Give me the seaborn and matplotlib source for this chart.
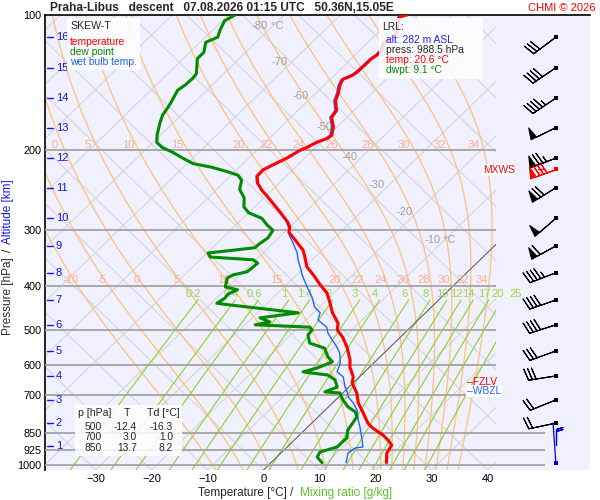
import numpy as np
import pandas as pd
import matplotlib
matplotlib.use("Agg")
import matplotlib.pyplot as plt
from matplotlib.patches import Rectangle
from matplotlib.ticker import NullLocator
import seaborn as sns

# sounding: pressure [hPa] and temperature [C]
temp_p = [100, 101, 105, 110, 112, 115, 120, 123, 125, 129, 134, 136, 139, 143, 149, 155,
          163, 169, 177, 185, 188, 192, 197, 200, 208, 215, 221, 228, 236, 245, 252, 262,
          275, 288, 296, 304, 316, 333, 345, 363, 378, 398, 415, 437, 459, 484, 501, 520,
          547, 584, 606, 637, 657, 692, 728, 766, 807, 828, 858, 880, 903, 926, 941, 988]
temp_t = [-58.1, -59.1, -58.0, -56.5, -56.5, -57.2, -56.1, -56.1, -56.4, -56.4, -56.5, -56.7, -57.7, -57.2, -56.0, -55.1,
          -53.1, -52.7, -50.7, -49.4, -49.6, -50.8, -51.6, -52.3, -53.2, -54.4, -55.3, -55.2, -53.9, -51.8, -49.9, -47.4,
          -44.3, -41.4, -40.0, -39.2, -36.7, -33.4, -31.8, -29.6, -27.0, -23.9, -21.2, -18.8, -16.6, -13.7, -12.6, -10.3,
          -7.7, -4.8, -3.5, -1.1, -0.2, 2.5, 4.6, 7.3, 10.0, 11.8, 14.9, 16.7, 18.3, 18.7, 18.9, 20.6]

dwpt_p = [100, 103, 108, 112, 114, 115, 121, 125, 135, 138, 143, 147, 154, 160, 167, 174,
          185, 192, 197, 202, 208, 214, 218, 223, 227, 233, 244, 255, 267, 275, 283, 293,
          301, 313, 324, 329, 338, 345, 350, 356, 363, 372, 378, 384, 402, 408, 417, 426,
          437, 441, 459, 471, 481, 488, 494, 501, 514, 536, 550, 575, 590, 609, 621, 631,
          647, 671, 688, 692, 717, 743, 762, 782, 807, 836, 871, 912, 936, 960, 988]
dwpt_t = [-88.8, -89.6, -88.7, -87.8, -88.6, -89.0, -87.5, -87.5, -84.9, -84.7, -84.8, -85.2, -84.4, -83.8, -83.3, -82.3,
          -80.6, -79.3, -77.4, -74.6, -71.8, -68.9, -64.9, -61.3, -58.8, -57.2, -55.9, -53.5, -51.9, -50.0, -46.6, -44.4,
          -42.4, -41.9, -42.4, -42.4, -49.8, -48.7, -40.5, -39.1, -39.2, -39.4, -41.3, -41.8, -40.5, -37.8, -38.7, -38.5,
          -39.0, -36.3, -22.7, -28.6, -26.1, -28.2, -18.0, -17.1, -16.9, -15.1, -11.5, -9.3, -7.6, -9.2, -11.0, -6.0,
          -3.8, -2.1, -3.4, -0.5, 1.3, 3.5, 5.7, 6.9, 7.3, 7.7, 9.0, 8.9, 6.8, 7.2, 9.1]

wetb_p = [100, 101, 105, 110, 112, 115, 120, 123, 125, 129, 134, 136, 139, 143, 149, 155,
          163, 169, 177, 185, 188, 192, 197, 200, 208, 215, 221, 228, 236, 245, 258, 271,
          285, 297, 308, 321, 338, 350, 363, 378, 402, 423, 446, 459, 476, 494, 509, 527,
          547, 564, 593, 621, 637, 671, 688, 706, 728, 755, 794, 823, 880, 912, 917, 941, 988]
wetb_t = [-58.4, -59.4, -58.3, -56.8, -56.8, -57.5, -56.4, -56.4, -56.7, -56.7, -56.8, -57.0, -58.0, -57.5, -56.3, -55.4,
          -53.4, -53.0, -51.0, -49.7, -49.9, -51.1, -51.9, -52.5, -53.4, -54.6, -55.4, -55.4, -54.1, -51.9, -48.5, -45.4,
          -42.1, -40.1, -38.7, -36.5, -33.9, -32.5, -30.8, -29.0, -25.9, -23.2, -20.8, -18.8, -17.9, -15.0, -13.7, -11.7,
          -9.5, -7.9, -6.0, -4.9, -2.9, -0.7, 0.6, 1.7, 3.7, 5.7, 7.7, 9.3, 12.1, 13.5, 12.3, 12.0, 13.4]

levels = [100, 200, 300, 400, 500, 600, 700, 850, 925, 1000]

# altitude marks [km] and the pressure they sit on
alt_km = list(range(1, 17))
alt_p = [908, 807, 717, 634, 558, 488, 430, 374, 326, 283, 242, 208, 178, 153, 131, 112]

# wind from 2 to 16 km: direction [deg], speed [kt]
wind_p = [807, 717, 634, 558, 488, 430, 374, 326, 283, 242, 208, 178, 153, 131, 112]
wind_dir = [258, 248, 261, 250, 252, 251, 249, 241, 229, 238, 249, 244, 236, 236, 233]
wind_spd = [20, 20, 30, 30, 40, 40, 45, 60, 50, 70, 75, 50, 45, 40, 30]
mxws_p, mxws_dir, mxws_spd = 220, 250, 80
sfc_wind_p, sfc_wind_dir, sfc_wind_spd = 905, 0, 20

theta_w = [-10, -5, 0, 5, 10, 15, 20, 22, 24, 26, 28, 30, 32, 34]
mix_w = [0.2, 0.4, 0.6, 1, 1.4, 2, 3, 4, 6, 8, 10, 12, 14, 17, 20, 25]
iso_lab_t = [-80, -70, -60, -50, -40, -30, -20, -10]
iso_lab_p = [106, 127, 151, 177, 207, 239, 274, 316]

tab_p = [500, 700, 850]
tab_t = [-12.4, 3.0, 13.7]
tab_td = [-16.3, 1.0, 8.2]
lrl_alt, lrl_press, lrl_t, lrl_td = 282, 988.5, 20.6, 9.1
fzlv_p, wbzl_p = 655, 686

# ---------------------------------------------------------------
sns.set_theme(style="white")
plt.rcParams["font.family"] = ["Liberation Sans", "DejaVu Sans"]

W, H = 600, 500
P_BOT, P_TOP = 1026, 100
X_LEFT, X_RIGHT, X_DIAG = -39.0, 58.3, 41.5
K = 82.8
BARB_X = 52.2

RED, GREEN, BLUE = "#ff0000", "#008c00", "#1e64ff"
ORANGE, MIXG = "#ffc27a", "#8fd12a"


def skew(t, p):
    return np.asarray(t, float) + K * np.log10(P_BOT / np.asarray(p, float))


def sat_vp(tc):
    return 6.112 * np.exp(17.67 * tc / (tc + 243.5))


Rd, Cp, Lv, eps = 287.04, 1005.7, 2.501e6, 0.622


def lapse(T, p):
    es = sat_vp(T - 273.15)
    rs = eps * es / (p - es)
    return (Rd * T + Lv * rs) / (p * (Cp + Lv * Lv * rs * eps / (Rd * T * T)))


def pseudo(tw, pgrid):
    T = np.asarray(tw, float) + 273.15
    out = [T]
    for p0, p1 in zip(pgrid[:-1], pgrid[1:]):
        h = p1 - p0
        k1 = lapse(T, p0)
        k2 = lapse(T + h * k1 / 2, p0 + h / 2)
        k3 = lapse(T + h * k2 / 2, p0 + h / 2)
        k4 = lapse(T + h * k3, p1)
        T = T + h * (k1 + 2 * k2 + 2 * k3 + k4) / 6
        out.append(T)
    return np.array(out) - 273.15


def mix_td(w, p):
    e = w * p / (622.0 + w)
    a = np.log(e / 6.112)
    return 243.5 * a / (17.67 - a)


def ftxt(px, py, s, **kw):
    kw.setdefault("va", "center")
    kw.setdefault("fontsize", 7.4)
    return fig.text(px / W, 1 - py / H, s, zorder=6, **kw)


def fbox(x0, y0, x1, y1, alpha=0.85):
    fig.add_artist(Rectangle((x0 / W, 1 - y1 / H), (x1 - x0) / W, (y1 - y0) / H,
                             transform=fig.transFigure, fc="white", ec="none",
                             alpha=alpha, zorder=5))


fig = plt.figure(figsize=(W / 100, H / 100), dpi=100)
fig.patch.set_facecolor("white")
ax = fig.add_axes([45 / W, 30 / H, 545 / W, 455 / H])
ax.set_yscale("log")
ax.set_facecolor("#f0f0fe")

clip = Rectangle((X_LEFT, P_TOP), X_DIAG - X_LEFT, P_BOT - P_TOP, transform=ax.transData)

pp = np.geomspace(P_BOT, P_TOP, 300)
# diagonal grid
for t0 in range(-130, 50, 10):
    ln, = ax.plot(skew(t0, pp), pp, color="#d2d2d8", lw=0.7, zorder=1)
    ln.set_clip_path(clip)
for c0 in range(-40, 140, 10):
    ln, = ax.plot(c0 - K * np.log10(P_BOT / pp), pp, color="#d2d2d8", lw=0.7, zorder=1)
    ln.set_clip_path(clip)

# moist adiabats
p_up = np.geomspace(1000, P_TOP, 400)
p_dn = np.geomspace(1000, P_BOT, 5)
t_up = pseudo(theta_w, p_up)
t_dn = pseudo(theta_w, p_dn)
p_ma = np.concatenate([p_dn[::-1], p_up[1:]])
t_ma = np.vstack([t_dn[::-1], t_up[1:]])
for i, tw in enumerate(theta_w):
    xs = skew(t_ma[:, i], p_ma)
    ln, = ax.plot(xs, p_ma, color=ORANGE, lw=0.9, zorder=2)
    ln.set_clip_path(clip)
    for pl, shift in ((400, 1.3), (200, 1.9)):
        xl = np.interp(np.log(pl), np.log(p_ma[::-1]), xs[::-1]) - shift
        if -38.5 < xl < X_DIAG:
            ax.text(xl, pl * 0.97, str(tw), color="#ffae90", fontsize=8,
                    ha="center", va="center", zorder=3)

# mixing ratio lines
pm = np.geomspace(P_BOT, 430, 60)
for w in mix_w:
    xs = skew(mix_td(w, pm), pm)
    ln, = ax.plot(xs, pm, color=MIXG, lw=0.8, zorder=2)
    ln.set_clip_path(clip)
    ax.text(xs[-1] - 0.8, 417, f"{w:g}", color="#9ad84a", fontsize=8,
            ha="center", va="center", zorder=3)

# 0 C isotherm
ln, = ax.plot(skew(0, pp), pp, color="#5a5a5a", lw=0.7, zorder=2)
ln.set_clip_path(clip)

# isotherm labels
for t0, pl in zip(iso_lab_t, iso_lab_p):
    xl = skew(t0, pl) - 0.8
    ax.text(xl, pl, str(t0), color="#a0a0a0", fontsize=8, ha="right", va="center", zorder=3)
    if t0 in (-80, -10):
        ax.text(xl, pl, " °C", color="#a0a0a0", fontsize=8, ha="left", va="center", zorder=3)

# pressure lines
ax.hlines(levels[1:7], X_LEFT, X_DIAG, color="#a4a4a4", lw=1.3, zorder=3)
ax.hlines(levels[7:], X_LEFT, 50.3, color="#a4a4a4", lw=1.3, zorder=3)

# profiles
df_w = pd.DataFrame({"x": skew(wetb_t, wetb_p), "p": wetb_p})
df_d = pd.DataFrame({"x": skew(dwpt_t, dwpt_p), "p": dwpt_p})
df_t = pd.DataFrame({"x": skew(temp_t, temp_p), "p": temp_p})
sns.lineplot(data=df_w, x="x", y="p", sort=False, estimator=None, color=BLUE, lw=1.0, ax=ax, zorder=5)
sns.lineplot(data=df_t, x="x", y="p", sort=False, estimator=None, color=RED, lw=2.2, ax=ax, zorder=6)
sns.lineplot(data=df_d, x="x", y="p", sort=False, estimator=None, color=GREEN, lw=2.2, ax=ax, zorder=6)

# altitude marks
for km, pa in zip(alt_km, alt_p):
    ax.plot([-38.7, -37.6], [pa, pa], color="#1515e6", lw=1.0, zorder=4, clip_on=False)
    ax.text(-37.1, pa, str(km), color="#1515e6", fontsize=8, ha="left", va="center", zorder=4)

# wind barbs
barb_kw = dict(length=6.3, lw=0.8, sizes=dict(spacing=0.14, height=0.42, width=0.22))
rad = np.deg2rad(wind_dir)
u = -np.array(wind_spd) * np.sin(rad)
v = -np.array(wind_spd) * np.cos(rad)
bx = np.full(len(wind_p), BARB_X)
ax.barbs(bx, wind_p, u, v, color="black", zorder=7, **barb_kw)
ax.scatter(bx, wind_p, s=8, marker="s", color="black", zorder=8, lw=0)
mr = np.deg2rad(mxws_dir)
ax.barbs([BARB_X], [mxws_p], [-mxws_spd * np.sin(mr)], [-mxws_spd * np.cos(mr)],
         color=RED, zorder=7, **barb_kw)
ax.scatter([BARB_X], [mxws_p], s=8, marker="s", color=RED, zorder=8, lw=0)
sr = np.deg2rad(sfc_wind_dir)
ax.plot([BARB_X, BARB_X - 0.5], [lrl_press, alt_p[1]], color="#0000dd", lw=0.9, zorder=7)
ax.barbs([BARB_X], [sfc_wind_p], [-sfc_wind_spd * np.sin(sr)], [-sfc_wind_spd * np.cos(sr)],
         length=4.8, lw=0.9, color="#0000dd", zorder=7)
ax.scatter([BARB_X], [lrl_press], s=8, marker="s", color="#0000dd", zorder=8, lw=0)

# axes cosmetics
ax.set_xlim(X_LEFT, X_RIGHT)
ax.set_ylim(P_BOT, P_TOP)
ax.set_xlabel("")
ax.set_ylabel("")
ax.set_yticks(levels)
ax.set_yticklabels([str(l) for l in levels])
ax.yaxis.set_minor_locator(NullLocator())
ax.set_xticks(range(-30, 41, 10))
ax.tick_params(axis="y", length=0, pad=2.5, labelsize=7.8, colors="black")
ax.tick_params(axis="x", length=0, pad=3, labelsize=8, colors="black")
for side in ("right", "bottom"):
    ax.spines[side].set_visible(False)
for side in ("left", "top"):
    ax.spines[side].set_color("black")
    ax.spines[side].set_linewidth(1.2)
ax.grid(False)

# title and credits
ftxt(50, 8, "Praha-Libus   descent   07.08.2026 01:15 UTC   50.36N,15.05E",
     fontsize=8.6, fontweight="bold")
ftxt(596, 8, "CHMI © 2026", color=RED, fontsize=8, ha="right")

# axis titles
ftxt(8, 296, "Pressure [hPa]", rotation=90, ha="center", fontsize=8.5)
ftxt(8, 250, "/", rotation=90, ha="center", fontsize=8.5)
ftxt(8, 212, "Altitude [km]", rotation=90, ha="center", fontsize=8.5, color="#1515e6")
ftxt(242, 493, "Temperature [°C]", ha="center", fontsize=8.5)
ftxt(292, 493, "/", ha="center", fontsize=8.5)
ftxt(346, 493, "Mixing ratio [g/kg]", ha="center", fontsize=8.5, color="#5cc02a")

# legend box
fbox(67, 18, 140, 70)
ftxt(70, 26, "SKEW-T", fontsize=7.6)
ftxt(70, 42, "temperature", color=RED)
ftxt(70, 52, "dew point", color=GREEN)
ftxt(70, 62, "wet bulb temp.", color=BLUE)

# LRL box
fbox(379, 18, 483, 79)
ftxt(382, 27, "LRL:")
ftxt(386, 40, f"alt: {lrl_alt} m ASL", color="#2020ff")
ftxt(386, 50, f"press: {lrl_press:.1f} hPa")
ftxt(386, 60, f"temp: {lrl_t:.1f} °C", color=RED)
ftxt(386, 70, f"dwpt: {lrl_td:.1f} °C", color=GREEN)

# table box
fbox(75, 405, 182, 456)
ftxt(78, 413, "p [hPa]", fontsize=7.6)
ftxt(127, 413, "T", fontsize=7.6, ha="center")
ftxt(147, 413, "Td [°C]", fontsize=7.6)
for k, (pa, ta, tda) in enumerate(zip(tab_p, tab_t, tab_td)):
    yy = 427 + 10.5 * k
    ftxt(102, yy, f"{pa}", ha="right", fontsize=7.4)
    ftxt(137, yy, f"{ta:.1f}", ha="right", fontsize=7.4)
    ftxt(173, yy, f"{tda:.1f}", ha="right", fontsize=7.4)

# MXWS label
fbox(482, 164, 514, 176, alpha=1.0)
ftxt(483, 170, "MXWS", color=RED, fontsize=7.4)
ax.plot([49.0, 50.2], [mxws_p, mxws_p], color=RED, lw=0.9, zorder=7)

# FZLV / WBZL labels (WBZL box partly hides FZLV, as in the original)
ax.text(36.3, fzlv_p, "\u2013FZLV", color=RED, fontsize=7.4, ha="left", va="center", zorder=8)
ax.text(36.3, wbzl_p, "\u2013WBZL", color=BLUE, fontsize=7.4, ha="left", va="center", zorder=10,
        bbox=dict(fc="white", ec="none", pad=0.8))

fig.savefig("out.png", dpi=100, facecolor="white")
